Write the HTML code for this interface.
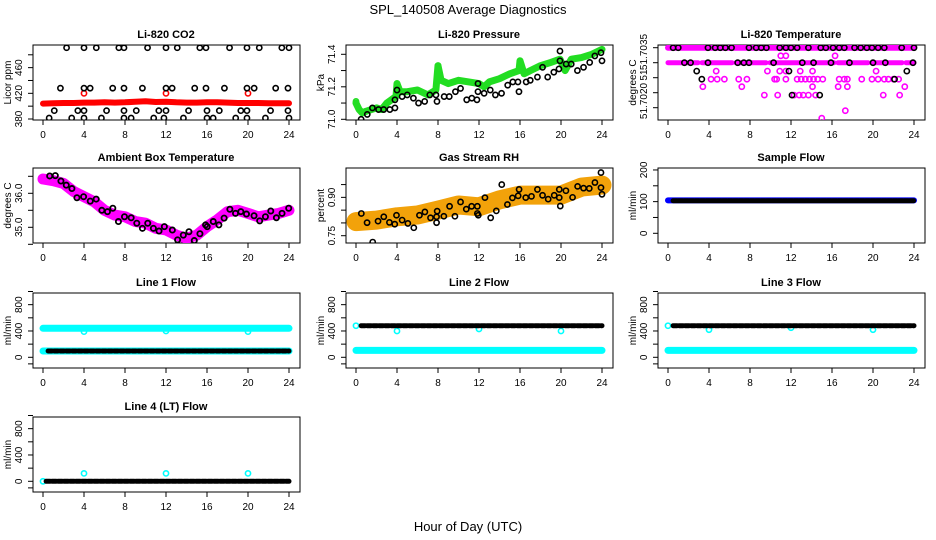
<!DOCTYPE html>
<html><head><meta charset="utf-8"><style>
html,body{margin:0;padding:0;background:#fff;}
svg{display:block;font-family:"Liberation Sans",Arial,sans-serif;}
</style></head><body>
<svg id="chart" width="936" height="540" viewBox="0 0 936 540" xmlns="http://www.w3.org/2000/svg">
<rect width="936" height="540" fill="#fff"/>
<text x="468" y="14" text-anchor="middle" font-size="13">SPL_140508  Average Diagnostics</text>
<text x="468" y="531" text-anchor="middle" font-size="13">Hour of Day (UTC)</text>
</svg>
<script>
// ---------- data ----------
const xTicks=[0,4,8,12,16,20,24];
// CO2
const co2Hours=[2.3,4,5.2,7.4,7.9,10.2,12,13.1,15.3,15.9,18.2,19.9,21.1,23.3,24,
1.7,4,4.6,6.8,7.9,9.7,12,12.6,14.8,15.9,17.7,19.9,20.6,22.7,23.9,
1.1,3.4,4,6.2,7.9,9.1,11.3,12,14.2,16,17.2,19.3,19.9,22.2,23.9,
0.6,2.8,4,5.7,7.9,8.6,10.8,11.8,13.7,16,16.6,18.8,19.9,21.7,24];
const co2Vals=[491,491,491,491,491,491,491,491,491,491,491,491,491,491,491,
428,428,428,428,428,428,428,428,428,428,428,428,428,428,428,
393,393,393,393,393,393,393,393,393,393,393,393,393,393,393,
381.5,381.5,381.5,381.5,381.5,381.5,381.5,381.5,381.5,381.5,381.5,381.5,381.5,381.5,381.5];
const co2LineHours=[0,1,2,3,4,5,6,7,8,9,10,11,12,13,14,15,16,17,18,19,20,21,22,23,24];
const co2LineVals=[404,404.5,405,405,405.5,405.5,406,405.5,406,407,407.5,406.5,407,406,405.5,405.5,406,406,405.5,405,405,405,404.5,404.5,404.5];
const co2OutHours=[4,12,20];
const co2OutVals=[420,420,420];
// Pressure
const pLineHours=[0,0.3,0.6,1,2,2.5,3,3.9,4,4.3,5,6,7,7.8,8,8.3,9,10,11,12,12.5,13,14,15,15.9,16,16.4,17,18,19,19.9,20.4,21,22,23,24];
const pLineVals=[71.1,71.06,71.04,71.05,71.07,71.06,71.1,71.14,71.22,71.17,71.17,71.18,71.15,71.18,71.33,71.24,71.22,71.24,71.23,71.22,71.2,71.23,71.25,71.28,71.3,71.36,71.28,71.3,71.33,71.35,71.37,71.3,71.37,71.38,71.4,71.43];
const pHours=[0.5,1.1,1.6,2.2,2.7,3.3,3.8,3.8,4,4.5,5,5.6,6.1,6.7,7.2,7.8,7.9,8.6,9.1,9.7,10.2,10.8,11.3,11.8,11.9,11.9,12.5,13.1,13.6,14.2,14.8,15.3,15.8,15.9,16.6,17,17.7,18.2,18.7,19.3,19.8,19.9,19.9,20.5,21,21.6,22.2,22.8,23.3,23.9,24];
const pVals=[71.0,71.03,71.07,71.06,71.06,71.06,71.07,71.12,71.18,71.14,71.15,71.13,71.1,71.11,71.15,71.15,71.11,71.14,71.14,71.17,71.19,71.12,71.13,71.12,71.22,71.17,71.16,71.18,71.15,71.16,71.21,71.23,71.23,71.17,71.23,71.24,71.26,71.32,71.26,71.29,71.31,71.42,71.36,71.34,71.34,71.3,71.32,71.35,71.39,71.41,71.36];
// Li-820 temperature
const tBandHours=[0,24];
const tBandTop=[51.7035,51.7035];
const tBandMid=[51.7030,51.7030];
const tMagHours=[11,11.5,16.3,4.7,9.7,10.9,11.5,12.9,14.1,20.3,4.2,4.8,5.5,6.9,7.7,10.4,10.6,11.5,12.6,13,13.4,13.8,14.2,14.6,15.1,16.7,17.2,17.5,18.9,19.9,20.5,21.1,21.5,22,22.5,3.4,7.2,14.1,16.6,17.5,23.1,9.4,10.7,12.3,12.8,13.2,13.7,14.4,21,22.6,17.3,15];
const tMagVals=[51.70323,51.70323,51.70323,51.70272,51.70272,51.70272,51.70272,51.70272,51.70272,51.70272,51.70245,51.70245,51.70245,51.70245,51.70245,51.70245,51.70245,51.70245,51.70245,51.70245,51.70245,51.70245,51.70245,51.70245,51.70245,51.70245,51.70245,51.70245,51.70245,51.70245,51.70245,51.70245,51.70245,51.70245,51.70245,51.7022,51.7022,51.7022,51.7022,51.7022,51.7022,51.70192,51.70192,51.70192,51.70192,51.70192,51.70192,51.70192,51.70192,51.70192,51.7014,51.70115];
const tBlkHours=[0.5,1,3.9,4.6,5.1,5.6,6.2,7.9,8.6,9.1,9.6,10.9,11.5,12,12.6,13.7,14.9,15.4,16.1,16.7,17.2,18.2,18.8,19.4,19.9,20.5,21.1,22.8,24,1.6,2.2,3.9,6.8,7.4,7.9,10.3,13.1,14.2,15.9,17.7,20,21.2,23.9,2.8,11.8,23.3,3.3,22.1,12.1,14.8];
const tBlkVals=[51.7035,51.7035,51.7035,51.7035,51.7035,51.7035,51.7035,51.7035,51.7035,51.7035,51.7035,51.7035,51.7035,51.7035,51.7035,51.7035,51.7035,51.7035,51.7035,51.7035,51.7035,51.7035,51.7035,51.7035,51.7035,51.7035,51.7035,51.7035,51.7035,51.7030,51.7030,51.7030,51.7030,51.7030,51.7030,51.7030,51.7030,51.7030,51.7030,51.7030,51.7030,51.7030,51.7030,51.70272,51.70272,51.70272,51.70245,51.70245,51.70192,51.70192];
// Ambient box temperature
const bLineHours=[0,1,2,3,4,5,6,7,8,9,10,11,12,13,14,15,16,17,18,19,20,21,22,23,24];
const bLineVals=[36.42,36.37,36.29,36.05,35.9,35.75,35.5,35.36,35.31,35.17,35.12,34.97,34.92,34.77,34.68,34.77,35.02,35.22,35.46,35.5,35.41,35.31,35.36,35.41,35.5];
const bHours=[0.65,1.2,1.75,2.27,2.82,3.31,3.96,4.61,5.19,5.74,6.29,6.81,7.36,7.95,8.6,9.15,9.7,10.22,10.77,11.32,11.84,12.62,13.13,13.69,14.24,14.76,15.31,15.86,16.02,16.61,17.16,17.67,18.23,18.78,19.3,19.85,20.59,21.14,21.7,22.22,22.77,23.32,23.97];
const bVals=[36.51,36.52,36.36,36.24,36.14,35.87,35.9,35.77,35.83,35.5,35.46,35.56,35.17,35.31,35.28,35.12,34.97,35.12,34.97,34.89,35.02,34.92,34.63,34.77,34.87,34.61,34.81,35.07,35.02,35.17,35.07,35.27,35.53,35.41,35.46,35.39,35.34,35.19,35.31,35.48,35.28,35.41,35.56];
// Gas stream RH
const rLineHours=[0,2,4,6,8,10,12,14,16,18,20,22,24];
const rLineVals=[0.805,0.811,0.824,0.831,0.85,0.87,0.863,0.89,0.909,0.909,0.909,0.94,0.948];
const rHours=[0.52,1.08,2.15,2.71,3.26,3.78,3.95,4.5,5.06,5.64,6.19,6.72,7.27,7.86,7.86,7.92,8.57,9.13,9.65,10.2,10.76,11.28,11.84,11.84,11.93,12.58,13.14,13.69,14.77,14.22,15.26,15.82,15.91,16.56,17.12,17.7,18.2,18.75,19.34,19.83,19.83,19.93,20.48,21.13,21.62,22.2,22.76,23.31,23.9,23.9,24,1.63];
const rVals=[0.837,0.801,0.807,0.824,0.802,0.795,0.83,0.811,0.798,0.781,0.83,0.843,0.82,0.824,0.801,0.846,0.826,0.865,0.826,0.882,0.854,0.865,0.865,0.837,0.83,0.899,0.82,0.847,0.872,0.95,0.898,0.906,0.931,0.899,0.904,0.931,0.908,0.893,0.908,0.899,0.931,0.866,0.926,0.9,0.943,0.936,0.935,0.958,0.997,0.938,0.912,0.725];
// Sample flow
const sBlueHours=[0,24]; const sBlueVals=[104,104];
const sBlkHours=[0.5,24]; const sBlkVals=[103,103];
// Line flows
const l1HiHours=[0,24]; const l1HiVals=[440,440];
const l1LoHours=[0,24]; const l1LoVals=[96,96];
const l1BlkHours=[0.5,24]; const l1BlkVals=[96,96];
const l1OutHours=[4,12,20]; const l1OutVals=[390,400,390];
const l2BlkHours=[0.5,24]; const l2BlkVals=[480,480];
const l2LoHours=[0,24]; const l2LoVals=[105,105];
const l2OutHours=[0,4,12,20]; const l2OutVals=[480,400,430,400];
const l3BlkHours=[0.5,24]; const l3BlkVals=[480,480];
const l3LoHours=[0,24]; const l3LoVals=[105,105];
const l3OutHours=[0,4,12,20]; const l3OutVals=[480,420,450,420];
const l4BlkHours=[0.3,24]; const l4BlkVals=[0,0];
const l4OutHours=[0,4,12,20]; const l4OutVals=[0,120,120,120];

// ---------- drawing ----------
const NS='http://www.w3.org/2000/svg';
const svg=document.getElementById('chart');
function el(tag,parent,attrs){const e=document.createElementNS(NS,tag);for(const k in attrs)e.setAttribute(k,attrs[k]);parent.appendChild(e);return e;}
const COLOFF=[0,313,625];
const ROWTOP=[45,168,293,417];
function makePanel(name,title,ylabel,col,row,yRefV,yRefPx,k,yTicks,yLabels){
  const off=COLOFF[col], top=ROWTOP[row], bot=top+75;
  const g=el('g',svg,{});
  
  
  const xs=h=>43+off+h*(246/24);
  const ys=v=>yRefPx+(yRefV-v)*k;
  const box=el('rect',g,{x:33+off,y:top,width:267,height:bot-top,fill:'none',stroke:'#000','stroke-width':1});
  
  
  const t=el('text',g,{x:166+off,y:top-7,'text-anchor':'middle','font-size':11,'font-weight':'bold'});
  t.textContent=title;
  
  
  const xa=el('g',g,{});
  
  
  el('line',xa,{x1:xs(0),x2:xs(24),y1:bot,y2:bot,stroke:'#000'});
  xTicks.forEach(v=>{el('line',xa,{x1:xs(v),x2:xs(v),y1:bot,y2:bot+5,stroke:'#000'});
    const tx=el('text',xa,{x:xs(v),y:bot+18,'text-anchor':'middle','font-size':10});tx.textContent=v;
    
    });
  const ya=el('g',g,{});
  
  
  yTicks.forEach(v=>{el('line',ya,{x1:33+off,x2:28+off,y1:ys(v),y2:ys(v),stroke:'#000'});});
  yLabels.forEach(([v,s,py])=>{const yy=py!==undefined?py:ys(v);
    const tx=el('text',ya,{x:0,y:0,'text-anchor':'middle','font-size':10,transform:`translate(${22+off},${yy}) rotate(-90)`});tx.textContent=s;
    
    });
  const yl=el('text',g,{x:0,y:0,'text-anchor':'middle','font-size':10,transform:`translate(${11+off},${(top+bot)/2}) rotate(-90)`});
  yl.textContent=ylabel;
  
  
  const clipId='clip'+name;
  const cp=el('clipPath',g,{id:clipId});el('rect',cp,{x:33+off,y:top,width:267,height:bot-top});
  const plot=el('g',g,{'clip-path':`url(#${clipId})`});
  return {g:plot,xs,ys};
}
function pts(p,hours,vals,color,sname,r,sw,fill){
  const gg=el('g',p.g,{});
  
  
  hours.forEach((h,i)=>{const c=el('circle',gg,{cx:p.xs(h),cy:p.ys(vals[i]),r:r||2.6,fill:fill||'none',stroke:color,'stroke-width':sw||1.6});
    
    });
}
function band(p,hours,vals,color,sname,w,dash){
  const d=hours.map((h,i)=>`${p.xs(h).toFixed(1)},${p.ys(vals[i]).toFixed(1)}`).join(' ');
  const a={points:d,fill:'none',stroke:color,'stroke-width':w,'stroke-linejoin':'round','stroke-linecap':'round'};
  if(dash)a['stroke-dasharray']=dash;
  const pl=el('polyline',p.g,a);
  
  
}
// CO2
let p=makePanel('co2','Li-820 CO2','Licor ppm',0,0,380,119,0.642,[380,400,420,440,460,480],[[380,'380'],[420,'420'],[460,'460']]);
band(p,co2LineHours,co2LineVals,'#ff0000','co2-red-series',6);
pts(p,co2OutHours,co2OutVals,'#ff0000','co2-red-outliers');
pts(p,co2Hours,co2Vals,'#000','co2-black-series');
// Pressure
p=makePanel('pressure','Li-820 Pressure','kPa',1,0,71.0,119.3,162.5,[71.0,71.1,71.2,71.3,71.4],[[71.0,'71.0'],[71.2,'71.2'],[71.4,'71.4']]);
band(p,pLineHours,pLineVals,'#22dd22','pressure-green-series',7);
pts(p,[0,4,8,16],[71.11,71.22,71.33,71.36],'#22dd22','pressure-green-spikes');
pts(p,pHours,pVals,'#000','pressure-black-series');
// Li-820 Temp
p=makePanel('li820-temp','Li-820 Temperature','degrees C',2,0,51.7035,47.7,30000,[51.7035,51.7030,51.7025,51.7020,51.7015],[[0,'51.7020',101],[0,'51',75],[0,'51.7035',52]]);
band(p,tBandHours,tBandTop,'#ff00ff','temp-magenta-top',6);
band(p,tBandHours,tBandMid,'#ff00ff','temp-magenta-mid',5,'30 4');
pts(p,tMagHours,tMagVals,'#ff00ff','temp-magenta-points');
pts(p,tBlkHours,tBlkVals,'#000','temp-black-points');
// Box temp
p=makePanel('box-temp','Ambient Box Temperature','degrees C',0,1,35.0,227.3,34,[34.5,35.0,35.5,36.0,36.5],[[35.0,'35.0'],[36.0,'36.0']]);
band(p,bLineHours,bLineVals,'#ff00ff','box-temp-magenta-series',11);
pts(p,bHours,bVals,'#000','box-temp-black-series',2.6,1.8);
// RH
p=makePanel('rh','Gas Stream RH','percent',1,1,0.75,235.7,255.6,[0.75,0.80,0.85,0.90,0.95],[[0.75,'0.75'],[0.90,'0.90']]);
band(p,rLineHours,rLineVals,'#f2a20a','rh-orange-series',19);
pts(p,rHours,rVals,'#000','rh-black-series');
// Sample flow
p=makePanel('sample-flow','Sample Flow','ml/min',2,1,0,233.3,0.3167,[0,50,100,150,200],[[0,'0'],[100,'100'],[200,'200']]);
band(p,sBlueHours,sBlueVals,'#0000ff','sample-blue-series',6);
band(p,sBlkHours,sBlkVals,'#000','sample-black-series',5,'4 1.5');
const flowT=[-100,0,200,400,600,800,1000];
const flowL=[[0,'0'],[400,'400'],[800,'800']];
function flowPanel(name,title,col,row){return makePanel(name,title,'ml/min',col,row,0,357.3+(row-2)*124,0.0658,flowT,flowL);}
p=flowPanel('line1-flow','Line 1 Flow',0,2);
band(p,l1HiHours,l1HiVals,'#00ffff','line1-cyan-high',7);
pts(p,l1OutHours,l1OutVals,'#00ffff','line1-cyan-outliers');
band(p,l1LoHours,l1LoVals,'#00ffff','line1-cyan-low',7);
band(p,l1BlkHours,l1BlkVals,'#000','line1-black-series',5,'4 2');
p=flowPanel('line2-flow','Line 2 Flow',1,2);
band(p,l2LoHours,l2LoVals,'#00ffff','line2-cyan-low',7);
pts(p,l2OutHours,l2OutVals,'#00ffff','line2-cyan-outliers');
band(p,l2BlkHours,l2BlkVals,'#000','line2-black-series',5,'4 2');
p=flowPanel('line3-flow','Line 3 Flow',2,2);
band(p,l3LoHours,l3LoVals,'#00ffff','line3-cyan-low',7);
pts(p,l3OutHours,l3OutVals,'#00ffff','line3-cyan-outliers');
band(p,l3BlkHours,l3BlkVals,'#000','line3-black-series',5,'4 2');
p=flowPanel('line4-flow','Line 4 (LT) Flow',0,3);
pts(p,l4OutHours,l4OutVals,'#00ffff','line4-cyan-outliers');
band(p,l4BlkHours,l4BlkVals,'#000','line4-black-series',5,'4 2');
</script>
</body></html>
